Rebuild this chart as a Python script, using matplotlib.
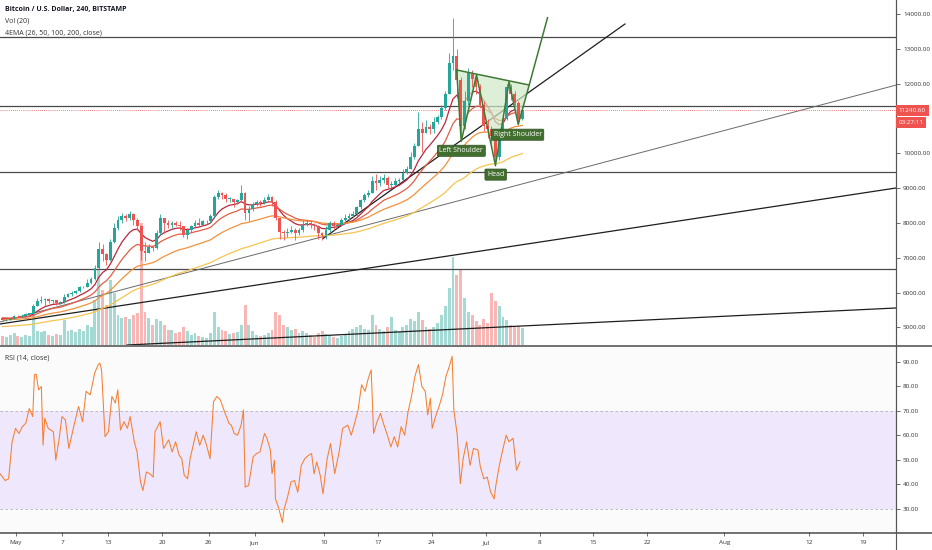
import numpy as np
import pandas as pd
import matplotlib
matplotlib.use("Agg")
import matplotlib.pyplot as plt
from matplotlib.lines import Line2D
from matplotlib.patches import Polygon

plt.rcParams["font.family"] = ["Open Sans", "DejaVu Sans"]

# BTC/USD (Bitstamp), resampled to 12h candles.
# time = days since 1 May 2019 (candle open)
# April closes are off screen, they only warm up the EMAs
warmup_close = [4140, 4150, 4600, 4880, 5000, 4970, 4920, 4900,
                4980, 5040, 5050, 5060, 5150, 5200, 5250, 5280,
                5200, 5180, 5350, 5320, 5100, 5040, 5060, 5080,
                5070, 5070, 5110, 5150, 5080, 5030, 5150, 5210,
                5230, 5240, 5280, 5290, 5270, 5280, 5300, 5330,
                5290, 5290, 5350, 5380, 5480, 5510, 5450, 5420,
                5300, 5170, 5230, 5270, 5260, 5270, 5250, 5260]

close = [5200, 5210, 5250, 5330, 5320, 5340, 5380, 5390,
         5620, 5760, 5800, 5820, 5760, 5780, 5700, 5720,
         5880, 5950, 5980, 6040, 6150, 6170, 6280, 6380,
         6700, 7250, 7100, 6950, 7450, 7850, 8100, 8200,
         8150, 8250, 8100, 7900, 7200, 7150, 7300, 7280,
         7700, 8150, 8000, 7950, 8000, 7950, 7900, 7650,
         7800, 7900, 8000, 7950, 8050, 8050, 8200, 8750,
         8850, 8800, 8700, 8700, 8600, 8650, 8850, 8300,
         8400, 8550, 8600, 8580, 8650, 8750, 8600, 8150,
         7750, 7700, 7750, 7800, 7700, 7800, 7950, 8000,
         7950, 7900, 7700, 7650, 7800, 8000, 7900, 7950,
         8100, 8150, 8200, 8250, 8450, 8650, 8800, 8850,
         9200, 9150, 9250, 9300, 9100, 9100, 9200, 9250,
         9450, 9550, 9900, 10200, 10700, 10600, 10750, 10700,
         10900, 11050, 11300, 11700, 12600, 12800, 12100, 10800,
         11500, 12300, 12150, 11900, 11400, 10800, 10700, 10500,
         9900, 10500, 11000, 11900, 11700, 11450, 11000, 11240.60]

high = [5270, 5240, 5280, 5360, 5350, 5370, 5400, 5420,
        5680, 5830, 5900, 5850, 5830, 5800, 5790, 5760,
        5950, 6000, 6050, 6080, 6180, 6200, 6400, 6450,
        6800, 7450, 7400, 7150, 7550, 8000, 8200, 8300,
        8250, 8350, 8300, 8150, 7950, 7450, 7400, 7350,
        7800, 8250, 8150, 8100, 8050, 8050, 8050, 7920,
        7850, 7950, 8100, 8150, 8100, 8100, 8250, 8800,
        8950, 8900, 8850, 8750, 8700, 8700, 9100, 8900,
        8500, 8600, 8650, 8650, 8750, 8820, 8780, 8650,
        8150, 7800, 7850, 7900, 7850, 7850, 8100, 8100,
        8050, 8000, 7950, 7750, 7900, 8050, 8050, 8000,
        8150, 8250, 8300, 8350, 8500, 8700, 8850, 8950,
        9350, 9400, 9350, 9400, 9350, 9200, 9300, 9300,
        9550, 9650, 10050, 10300, 11200, 10900, 10950, 10850,
        11050, 11100, 11400, 11800, 12900, 13900, 13000, 12200,
        11800, 12450, 12400, 12250, 12000, 11500, 11000, 10800,
        10600, 10650, 11100, 12000, 12000, 11800, 11500, 11350]

low = [5180, 5170, 5200, 5240, 5290, 5300, 5320, 5350,
       5380, 5600, 5700, 5600, 5700, 5700, 5650, 5660,
       5700, 5860, 5900, 5960, 6020, 6120, 6150, 6250,
       6370, 6680, 6900, 6800, 6900, 7420, 7800, 8000,
       8050, 8100, 7950, 7800, 6950, 6900, 7150, 7200,
       7250, 7650, 7700, 7850, 7850, 7900, 7800, 7600,
       7550, 7750, 7850, 7900, 7950, 7980, 8000, 8150,
       8700, 8700, 8600, 8600, 8450, 8550, 8600, 8100,
       8050, 8350, 8500, 8500, 8550, 8650, 8500, 8100,
       7550, 7500, 7600, 7700, 7500, 7650, 7750, 7900,
       7850, 7800, 7550, 7500, 7550, 7750, 7800, 7850,
       7900, 8050, 8100, 8150, 8200, 8400, 8600, 8750,
       8850, 8950, 9050, 9150, 9000, 9000, 9050, 9150,
       9250, 9400, 9550, 9850, 10200, 10050, 10600, 10550,
       10600, 10850, 11000, 11250, 11700, 12400, 11600, 10350,
       10700, 11400, 11900, 11700, 11300, 10650, 10450, 10300,
       9650, 9800, 10450, 10950, 11550, 11350, 10850, 10950]

# volume, thousand BTC (rough)
volume = [0.9, 0.8, 1.0, 1.2, 0.9, 0.8, 1.0, 0.9,
          3.3, 1.4, 1.3, 1.4, 1.0, 0.9, 1.1, 1.0,
          2.5, 1.4, 1.5, 1.3, 1.6, 1.4, 2.0, 1.8,
          4.5, 7.5, 5.5, 4.0, 6.5, 5.2, 3.0, 2.7,
          2.8, 2.6, 3.0, 3.2, 12.2, 3.3, 2.7, 2.0,
          2.6, 2.4, 2.0, 1.5, 1.5, 1.2, 1.3, 1.8,
          1.4, 1.0, 1.2, 0.9, 0.8, 0.7, 1.2, 3.3,
          1.8, 1.5, 1.4, 1.1, 1.2, 1.3, 2.0, 4.0,
          2.0, 1.4, 1.0, 0.9, 1.0, 1.2, 1.5, 3.3,
          3.0, 2.0, 1.8, 1.5, 1.6, 1.2, 1.4, 1.2,
          1.0, 0.8, 1.2, 1.4, 1.1, 1.0, 0.8, 0.7,
          0.9, 1.0, 1.4, 1.6, 1.8, 2.0, 1.6, 1.5,
          3.0, 2.0, 1.6, 1.4, 1.8, 2.8, 1.5, 1.3,
          1.8, 2.0, 2.6, 2.4, 3.3, 2.5, 1.8, 1.6,
          1.8, 2.2, 3.0, 3.9, 5.7, 8.8, 7.0, 7.6,
          4.7, 3.3, 3.0, 2.4, 2.0, 2.6, 2.2, 5.2,
          4.4, 3.9, 2.8, 2.5, 2.0, 1.8, 1.9, 1.7]

# RSI(14) of the 4h chart, read point by point
rsi_day = [-2.08, -1.41, -0.96, -0.51, -0.07, 0.38, 0.83, 1.27, 1.72, 2.17,
           2.39, 2.62, 2.93, 3.29, 3.51, 3.73, 4.18, 4.85, 5.17, 5.61,
           5.97, 6.42, 6.86, 7.54, 8.12, 8.65, 9.10, 9.64, 10.22, 10.67,
           10.89, 11.11, 11.56, 12.01, 12.45, 12.90, 13.22, 13.57, 14.02, 14.47,
           14.83, 15.36, 15.72, 16.17, 16.48, 16.93, 17.37, 17.82, 18.05, 18.72,
           19.16, 19.83, 20.28, 20.73, 21.18, 21.53, 21.85, 22.29, 22.61, 23.41,
           23.86, 24.31, 24.75, 25.20, 25.65, 26.10, 26.54, 27.08, 27.66, 27.97,
           28.33, 28.78, 29.23, 29.54, 29.76, 30.21, 30.79, 31.24, 31.69, 32.27,
           32.58, 33.03, 33.25, 33.56, 33.70, 34.15, 34.59, 34.82, 35.26, 35.71,
           36.16, 36.60, 37.05, 37.50, 37.95, 38.39, 38.71, 39.06, 39.51, 39.87,
           40.41, 40.85, 41.39, 41.97, 42.42, 43.09, 43.54, 43.98, 44.43, 44.88,
           45.33, 45.77, 46.13, 46.44, 46.89, 47.34, 47.79, 48.23, 48.68, 49.13,
           49.57, 50.02, 50.47, 50.92, 51.36, 51.81, 52.26, 52.71, 53.15, 53.47,
           53.82, 54.05, 54.49, 54.94, 55.39, 55.84, 56.28, 56.64, 56.86, 57.31,
           57.71, 58.07, 58.52, 58.97, 59.41, 59.99, 60.31, 60.76, 61.20, 61.65,
           62.10, 62.32, 62.77, 63.21, 63.66, 64.02, 64.56, 65.00, 65.45]
rsi_val = [44.4, 41.6, 42.3, 57.4, 62.9, 60.8, 63.6, 65.0, 71.0, 67.7,
           84.8, 85.0, 78.6, 80.0, 56.0, 67.0, 62.9, 61.5, 49.9, 58.9,
           67.7, 66.3, 54.7, 64.2, 71.8, 65.6, 78.0, 76.6, 85.5, 88.9,
           89.5, 86.8, 59.5, 61.5, 75.9, 73.2, 78.6, 62.2, 65.6, 62.9,
           67.7, 57.4, 53.3, 41.0, 37.5, 45.1, 44.4, 43.0, 61.5, 65.6,
           54.7, 58.2, 53.3, 57.4, 52.0, 50.5, 43.7, 42.3, 50.5, 61.5,
           56.0, 60.1, 56.0, 50.5, 73.8, 75.9, 74.5, 69.7, 64.9, 64.2,
           60.8, 60.1, 64.2, 70.4, 38.9, 39.6, 51.2, 52.6, 53.3, 60.8,
           58.9, 54.1, 44.4, 49.9, 34.1, 30.0, 24.5, 30.0, 34.8, 41.0,
           41.6, 36.8, 47.8, 50.5, 51.8, 52.6, 44.4, 49.2, 43.7, 36.2,
           50.5, 56.7, 44.4, 53.3, 62.9, 64.2, 60.1, 65.0, 70.4, 80.7,
           78.0, 83.5, 86.8, 60.8, 65.6, 69.0, 64.2, 60.1, 55.3, 59.5,
           55.3, 63.6, 60.1, 69.7, 75.9, 84.1, 88.9, 80.0, 78.0, 68.4,
           75.2, 62.9, 67.7, 71.8, 76.6, 84.1, 88.2, 92.3, 70.4, 60.1,
           40.3, 50.5, 57.4, 47.8, 54.7, 54.1, 47.1, 42.3, 43.0, 36.8,
           34.1, 39.6, 47.8, 54.1, 60.1, 57.4, 58.9, 45.8, 49.2]

# drawings on the chart
levels = [13340, 11370, 9455, 6670]
# trend lines: (day0, price0, day1, price1)
thin_line = (-2.08, 5154, 114.29, 11964)
trend_lines = [(-2.08, 5096, 114.29, 9006),
               (14.42, 4492, 114.29, 5556),
               (39.87, 7554, 79.09, 13721)]
# inverse head & shoulders sketch
hs_day = [57.23, 57.82, 59.81, 62.27, 64.03, 65.23, 66.65, 69.03]
hs_price = [12399, 10343, 12255, 9653, 12062, 10832, 11967, 13902]
hs_labels = ["Left Shoulder", "Head", "Right Shoulder"]
hs_label_day = [57.84, 62.30, 65.15]
hs_label_price = [10076, 9391, 10538]

ema_spans = [26, 50, 100, 200]
ema_colors = ["#b7283e", "#e35d45", "#f2913d", "#f6c451"]

tick_day = [0, 6, 12, 19, 25, 31, 40, 47, 54, 61, 68, 75, 82, 92, 103, 110]
tick_lbl = ["May", "7", "13", "20", "26", "Jun", "10", "17", "24", "Jul",
            "8", "15", "22", "Aug", "12", "19"]

UP, DOWN = "#26a69a", "#ef5350"
W, H = 932, 550

t = np.arange(len(close)) * 0.5 - 2.0
c = np.array(close, dtype=float)
o = np.array([warmup_close[-1]] + close[:-1], dtype=float)
cols = [UP if cc >= oo else DOWN for cc, oo in zip(c, o)]

fig = plt.figure(figsize=(W / 100, H / 100), dpi=100)
fig.patch.set_facecolor("white")
ax = fig.add_axes([0, 1 - 345 / H, 896 / W, 345 / H])
ax_r = fig.add_axes([0, 1 - 532 / H, 896 / W, (532 - 346) / H], sharex=ax)

# volume underneath the price
ax_v = ax.twinx()
ax.set_zorder(2)
ax_v.set_zorder(1)
ax.patch.set_visible(False)
ax_v.patch.set_facecolor("#f7f7f7")
ax_v.bar(t + 0.25, volume, width=0.38, color=cols, alpha=0.42, linewidth=0)
ax_v.set_ylim(0, 34.5)
ax_v.set_yticks([])
for s in ax_v.spines.values():
    s.set_visible(False)

# candles
ax.vlines(t + 0.25, low, high, colors=cols, lw=0.6, zorder=3)
ax.bar(t + 0.25, np.maximum(np.abs(c - o), 20), bottom=np.minimum(o, c),
       width=0.36, color=cols, linewidth=0, zorder=3)

# EMAs
full = pd.Series(warmup_close + close, dtype=float)
for span, col in zip(ema_spans, ema_colors):
    ema = full.ewm(span=span / 3, adjust=False).mean().iloc[len(warmup_close):]
    ax.plot(t + 0.25, ema.values, color=col, lw=0.9, zorder=2.5)

# levels and trend lines
for lv in levels:
    ax.axhline(lv, color="#4a4a4a", lw=0.9, zorder=2)
ax.plot(thin_line[::2], thin_line[1::2], color="#6a6a6a", lw=0.7, zorder=2)
for d0, p0, d1, p1 in trend_lines:
    ax.plot([d0, d1], [p0, p1], color="#1e1e1e", lw=0.9, zorder=2)
ax.axhline(close[-1], color=DOWN, lw=0.6, ls=(0, (1, 1.5)), zorder=2)

# head & shoulders
ax.add_patch(Polygon(list(zip(hs_day[:7], hs_price[:7])), closed=True,
                     facecolor="#cfe9c6", alpha=0.7, edgecolor="none", zorder=2.6))
ax.plot(hs_day, hs_price, color="#3f7a35", lw=1.1, zorder=4)
ax.plot([hs_day[0], hs_day[6]], [hs_price[0], hs_price[6]], color="#3f7a35", lw=1.1, zorder=4)
for lbl, d, p in zip(hs_labels, hs_label_day, hs_label_price):
    ax.text(d, p, lbl, ha="center", va="center", fontsize=5.0, color="white", zorder=5,
            bbox=dict(boxstyle="round,pad=0.3,rounding_size=0.15", fc="#426f30",
                      ec="#2f5422", lw=0.5))

ax.set_xlim(-2.08, 114.29)
ax.set_ylim(4492, 14411)
ax.yaxis.tick_right()
pticks = np.arange(5000, 14001, 1000)
ax.set_yticks(pticks)
# 11000 sits under the countdown tag, so it is not shown
ax.set_yticklabels(["" if v == 11000 else f"{v:.2f}" for v in pticks])
ax.tick_params(axis="y", labelsize=4.5, labelcolor="#333333", color="#555555",
               length=3, width=0.6, pad=2)
ax.tick_params(axis="x", bottom=False, labelbottom=False)
for s in ["top", "left", "bottom"]:
    ax.spines[s].set_visible(False)
ax.spines["right"].set_color("#555555")
ax.spines["right"].set_linewidth(0.8)

# last price tags
ax.text(1.003, close[-1], f"{close[-1]:.2f}", transform=ax.get_yaxis_transform(),
        ha="left", va="center", fontsize=4.5, color="white", clip_on=False, zorder=6,
        bbox=dict(boxstyle="square,pad=0.45", fc=DOWN, ec="none"))
ax.annotate("03:27:11", xy=(1.003, close[-1]), xycoords=ax.get_yaxis_transform(),
            xytext=(0, -8.6), textcoords="offset points", ha="left", va="center",
            fontsize=4.5, color="white", annotation_clip=False, zorder=6,
            bbox=dict(boxstyle="square,pad=0.45", fc=DOWN, ec="none"))

# RSI pane
n = min(len(rsi_day), len(rsi_val))
ax_r.set_facecolor("#fbfbfb")
ax_r.axhspan(30, 70, color="#efe7fb", lw=0)
for lv in (70, 30):
    ax_r.axhline(lv, color="#b0b0b0", lw=0.6, ls=(0, (3, 3)))
ax_r.plot(rsi_day[:n], rsi_val[:n], color="#f57f32", lw=0.75)
ax_r.set_ylim(20.6, 96.5)
ax_r.yaxis.tick_right()
rticks = np.arange(30, 91, 10)
ax_r.set_yticks(rticks)
ax_r.set_yticklabels([f"{v:.2f}" for v in rticks])
ax_r.tick_params(axis="y", labelsize=4.5, labelcolor="#333333", color="#555555",
                 length=3, width=0.6, pad=2)
ax_r.set_xticks(tick_day)
ax_r.set_xticklabels(tick_lbl)
ax_r.tick_params(axis="x", labelsize=4.6, labelcolor="#333333", color="#555555",
                 length=3, width=0.6, pad=3)
for s in ["top", "left", "bottom"]:
    ax_r.spines[s].set_visible(False)
ax_r.spines["right"].set_color("#555555")
ax_r.spines["right"].set_linewidth(0.8)

# pane separators / axis frame
for y in (345.5, 532.5):
    fig.add_artist(Line2D([0, 1], [1 - y / H, 1 - y / H], transform=fig.transFigure,
                          color="#4a4a4a", lw=1.1))
fig.add_artist(Line2D([896 / W, 896 / W], [0, 1], transform=fig.transFigure,
                      color="#555555", lw=0.8))

# legend texts
fig.text(5 / W, 1 - 10 / H, "Bitcoin / U.S. Dollar, 240, BITSTAMP", fontsize=5.0,
         fontweight="bold", color="#131722", va="center")
fig.text(5 / W, 1 - 21 / H, "Vol (20)", fontsize=5.0, color="#333333", va="center")
fig.text(5 / W, 1 - 33 / H, "4EMA (26, 50, 100, 200, close)", fontsize=5.0,
         color="#333333", va="center")
fig.text(5 / W, 1 - 358 / H, "RSI (14, close)", fontsize=5.0, color="#333333", va="center")

fig.savefig("out.png", dpi=100)
